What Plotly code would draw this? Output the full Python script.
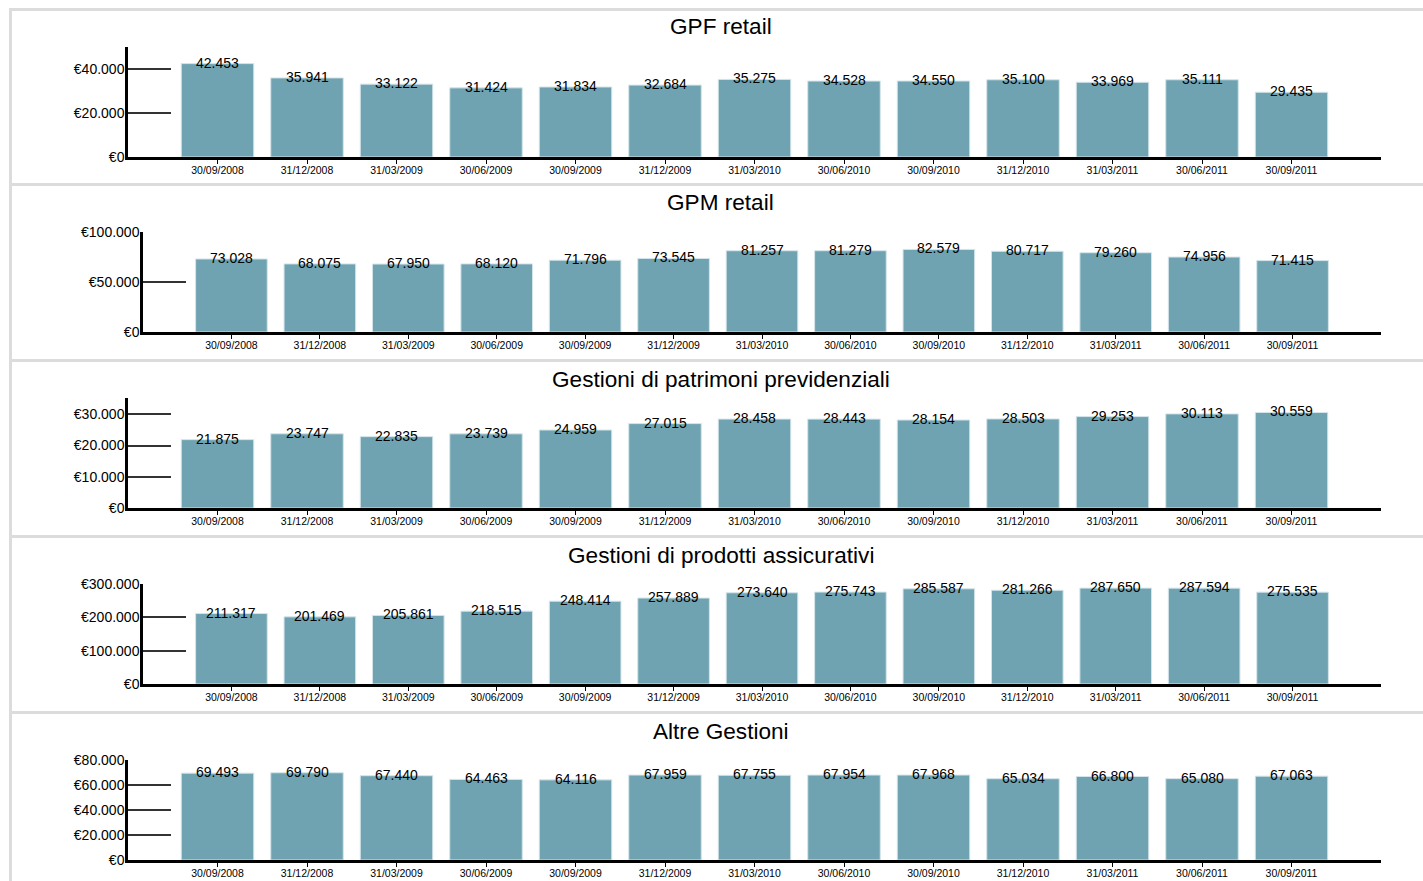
import plotly.graph_objects as go

# ---------------- data ----------------
dates = ["30/09/2008", "31/12/2008", "31/03/2009", "30/06/2009", "30/09/2009",
         "31/12/2009", "31/03/2010", "30/06/2010", "30/09/2010", "31/12/2010",
         "31/03/2011", "30/06/2011", "30/09/2011"]

titles = ["GPF retail", "GPM retail", "Gestioni di patrimoni previdenziali",
          "Gestioni di prodotti assicurativi", "Altre Gestioni"]

gpf_retail = [42453, 35941, 33122, 31424, 31834, 32684, 35275, 34528, 34550,
              35100, 33969, 35111, 29435]
gpm_retail = [73028, 68075, 67950, 68120, 71796, 73545, 81257, 81279, 82579,
              80717, 79260, 74956, 71415]
previdenziali = [21875, 23747, 22835, 23739, 24959, 27015, 28458, 28443, 28154,
                 28503, 29253, 30113, 30559]
assicurativi = [211317, 201469, 205861, 218515, 248414, 257889, 273640, 275743,
                285587, 281266, 287650, 287594, 275535]
altre = [69493, 69790, 67440, 64463, 64116, 67959, 67755, 67954, 67968, 65034,
         66800, 65080, 67063]

series = [gpf_retail, gpm_retail, previdenziali, assicurativi, altre]
y_max = [50000, 100000, 35200, 300000, 80000]
y_dtick = [20000, 50000, 10000, 100000, 20000]

# ---------------- layout geometry (page pixels) ----------------
W, H = 1423, 881
axis_left = [128, 143, 128, 143, 128]
axis_right = 1381
axis_top = [47, 232, 398, 584, 760]
axis_bottom = [157, 332, 508, 684, 860]
title_y = [27, 203, 379, 555, 731]
sep_y = [9.5, 184.5, 360.5, 536.5, 712.5]

FONT = "Liberation Sans, Arial, sans-serif"
BAR = "#6fa3b1"
BORDER = "#dcdcdc"


def fx(x):
    return x / W


def fy(y):
    return 1 - y / H


def it(v):
    return f"{v:,}".replace(",", ".")


fig = go.Figure()
annotations = []
shapes = []
layout = {}

for i, vals in enumerate(series):
    n = i + 1
    xa = "x" if n == 1 else f"x{n}"
    ya = "y" if n == 1 else f"y{n}"
    xs = list(range(len(dates)))
    fig.add_trace(go.Bar(
        x=xs, y=vals, xaxis=xa, yaxis=ya,
        marker=dict(color=BAR, line=dict(color="#d4e5ea", width=1)),
        hoverinfo="skip", showlegend=False,
    ))
    layout[f"xaxis{'' if n == 1 else n}"] = dict(
        domain=[fx(axis_left[i]), fx(axis_right)],
        anchor=ya, range=[-1, 13], automargin=False,
        tickvals=xs, ticktext=dates,
        ticks="outside", ticklen=4, tickwidth=1, tickcolor="#000",
        ticklabelstandoff=-2,
        showline=True, linecolor="#000", linewidth=2.5,
        showgrid=False, zeroline=False, fixedrange=True,
        tickfont=dict(family=FONT, size=10.5, color="#000"),
    )
    tv = list(range(0, int(y_max[i]) + 1, y_dtick[i]))
    layout[f"yaxis{'' if n == 1 else n}"] = dict(
        domain=[fy(axis_bottom[i]), fy(axis_top[i])],
        anchor=xa, range=[0, y_max[i]], automargin=False,
        tickvals=tv, ticktext=["€" + it(t) for t in tv],
        ticks="inside", ticklen=43, tickwidth=1.5, tickcolor="#333",
        ticklabelstandoff=-2,
        showline=True, linecolor="#000", linewidth=2.5,
        showgrid=False, zeroline=False, fixedrange=True,
        tickfont=dict(family=FONT, size=14, color="#000"),
    )
    for xv, v in zip(xs, vals):
        annotations.append(dict(
            x=xv, y=v, xref=xa, yref=ya, text=it(v), showarrow=False,
            xanchor="center", yanchor="middle", yshift=1,
            font=dict(family=FONT, size=14, color="#000"),
        ))
    annotations.append(dict(
        x=fx(720.5), y=fy(title_y[i]), xref="paper", yref="paper",
        text=titles[i], showarrow=False, xanchor="center", yanchor="middle",
        font=dict(family=FONT, size=22.6, color="#000"),
    ))

for sy in sep_y:
    shapes.append(dict(type="line", xref="paper", yref="paper",
                       x0=fx(10), x1=1, y0=fy(sy), y1=fy(sy),
                       line=dict(color=BORDER, width=3)))
shapes.append(dict(type="line", xref="paper", yref="paper",
                   x0=fx(10.5), x1=fx(10.5), y0=fy(8), y1=0,
                   line=dict(color=BORDER, width=3)))

fig.update_layout(
    width=W, height=H, autosize=False,
    margin=dict(l=0, r=0, t=0, b=0, pad=0, autoexpand=False),
    paper_bgcolor="white", plot_bgcolor="white",
    bargap=0.19,
    annotations=annotations, shapes=shapes,
    **layout,
)

fig.write_html("out.html", config={"displayModeBar": False},
               post_script="document.body.style.margin='0';")
